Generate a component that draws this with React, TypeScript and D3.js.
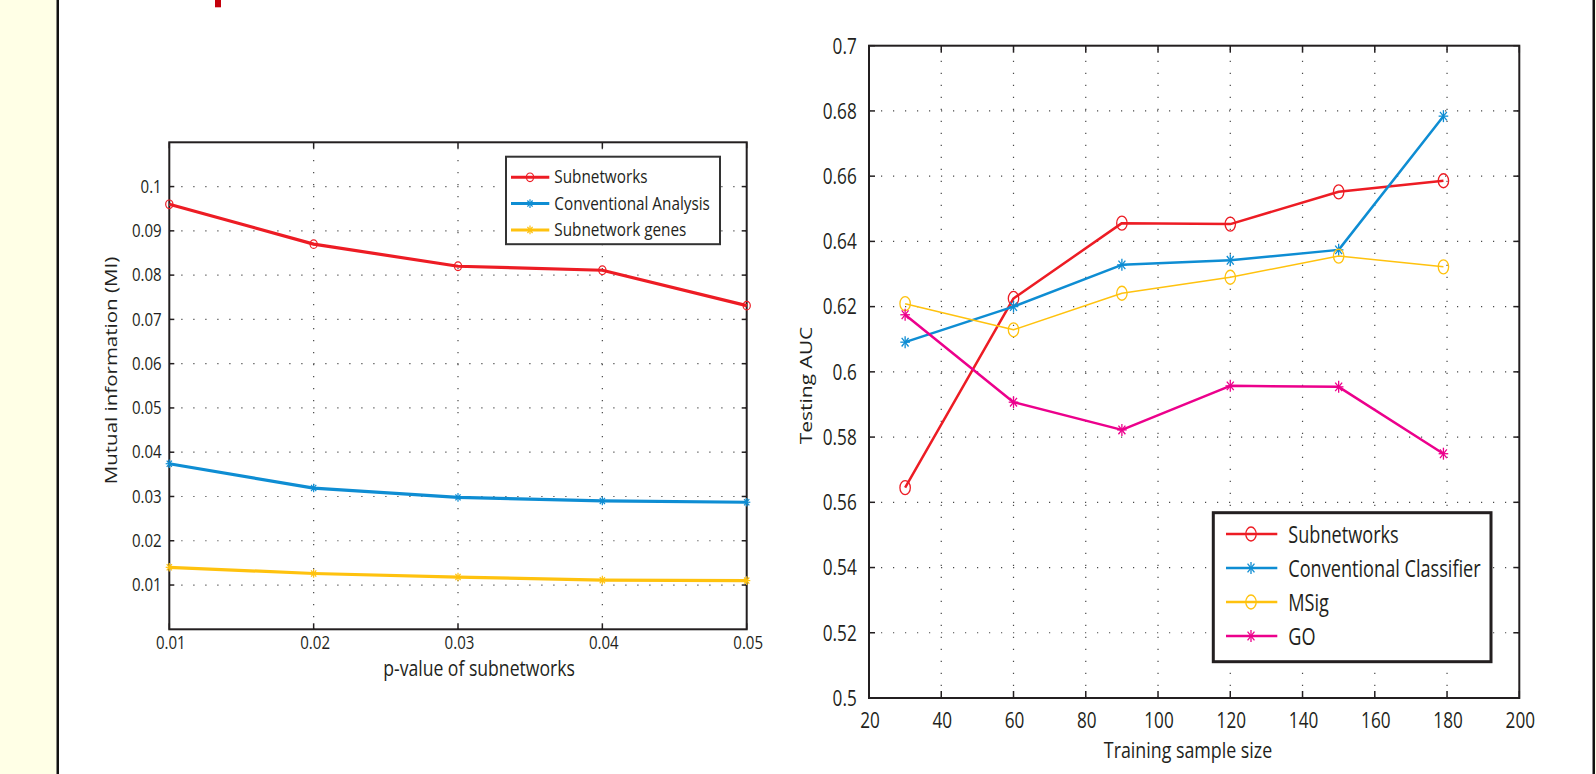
import React from "react";
import * as d3 from "d3";

// ---------- data ----------
const pValues = [0.01, 0.02, 0.03, 0.04, 0.05];
const miSubnetworks = [0.096, 0.087, 0.082, 0.0811, 0.0731];
const miConventional = [0.0374, 0.0319, 0.0298, 0.029, 0.0287];
const miGenes = [0.014, 0.0126, 0.0118, 0.0111, 0.011];
const leftYTicks = [0.01, 0.02, 0.03, 0.04, 0.05, 0.06, 0.07, 0.08, 0.09, 0.1];
const leftXTicks = [0.01, 0.02, 0.03, 0.04, 0.05];
const leftLegend = ["Subnetworks", "Conventional Analysis", "Subnetwork genes"];

const sampleSizes = [30, 60, 90, 120, 150, 179];
const aucSubnetworks = [0.5645, 0.6225, 0.6456, 0.6453, 0.6552, 0.6586];
const aucConventional = [0.6091, 0.62, 0.6328, 0.6342, 0.6374, 0.6784];
const aucMSig = [0.6209, 0.6129, 0.6241, 0.629, 0.6355, 0.6322];
const aucGO = [0.6175, 0.5907, 0.5822, 0.5957, 0.5954, 0.5749];
const rightYTicks = [0.5, 0.52, 0.54, 0.56, 0.58, 0.6, 0.62, 0.64, 0.66, 0.68, 0.7];
const rightXTicks = [20, 40, 60, 80, 100, 120, 140, 160, 180, 200];
const rightLegend = ["Subnetworks", "Conventional Classifier", "MSig", "GO"];

// ---------- style ----------
const RED = "#ED1C24";
const BLUE = "#0E8DD3";
const YELLOW = "#FFC20E";
const MAGENTA = "#EC008C";
const INK = "#231F20";
const FONT = "'Open Sans', 'Noto Sans', sans-serif";

type Marker = "circle" | "star";

function MarkerShape({ x, y, kind, color, rx, ry, sw = 1.2 }: any) {
  if (kind === "circle") {
    return <ellipse cx={x} cy={y} rx={rx} ry={ry} fill="none" stroke={color} strokeWidth={sw} />;
  }
  const dx = rx * 0.72;
  const dy = ry * 0.72;
  return (
    <g stroke={color} strokeWidth={sw} fill="none">
      <line x1={x - rx} y1={y} x2={x + rx} y2={y} />
      <line x1={x} y1={y - ry} x2={x} y2={y + ry} />
      <line x1={x - dx} y1={y - dy} x2={x + dx} y2={y + dy} />
      <line x1={x - dx} y1={y + dy} x2={x + dx} y2={y - dy} />
    </g>
  );
}

function SText({ x, y, size, sx, anchor = "start", children, fill = INK }: any) {
  return (
    <text
      transform={`translate(${x},${y}) scale(${sx},1)`}
      textAnchor={anchor}
      fontFamily={FONT}
      fontSize={size}
      fill={fill}
    >
      {children}
    </text>
  );
}

function VText({ x, y, size, sx, children }: any) {
  return (
    <text
      transform={`translate(${x},${y}) scale(${sx},1) rotate(-90)`}
      textAnchor="middle"
      fontFamily={FONT}
      fontSize={size}
      fill={INK}
    >
      {children}
    </text>
  );
}

export default function App() {
  // ---------- left chart ----------
  const lx = d3.scaleLinear().domain([0.01, 0.05]).range([169.3, 746.7]);
  const ly = d3.scaleLinear().domain([0, 0.11]).range([629.3, 142.3]);
  const [lx0, lx1] = lx.range();
  const [ly0, ly1] = ly.range();
  const lineL = (vals: number[]) =>
    d3.line<number>().x((_, i) => lx(pValues[i])).y((v) => ly(v))(vals) || "";

  const leftSeries = [
    { vals: miSubnetworks, color: RED, kind: "circle" as Marker },
    { vals: miConventional, color: BLUE, kind: "star" as Marker },
    { vals: miGenes, color: YELLOW, kind: "star" as Marker },
  ];

  // ---------- right chart ----------
  const rx = d3.scaleLinear().domain([20, 200]).range([869, 1519.3]);
  const ry = d3.scaleLinear().domain([0.5, 0.7]).range([698, 45.7]);
  const [rx0, rx1] = rx.range();
  const [ry0, ry1] = ry.range();
  const lineR = (vals: number[]) =>
    d3.line<number>().x((_, i) => rx(sampleSizes[i])).y((v) => ry(v))(vals) || "";

  const rightSeries = [
    { vals: aucSubnetworks, color: RED, kind: "circle" as Marker, w: 2.5 },
    { vals: aucConventional, color: BLUE, kind: "star" as Marker, w: 2.5 },
    { vals: aucMSig, color: YELLOW, kind: "circle" as Marker, w: 1.5 },
    { vals: aucGO, color: MAGENTA, kind: "star" as Marker, w: 2.5 },
  ];

  const gridStyle = { stroke: "#4a4a4a", strokeWidth: 1.2, strokeDasharray: "1.2 10.8" };

  return (
    <svg
      width={1596}
      height={774}
      style={{ position: "absolute", left: 0, top: 0, display: "block" }}
    >
      <rect x={0} y={0} width={1596} height={774} fill="#ffffff" />
      <rect x={0} y={0} width={56.5} height={774} fill="#FFFFE6" />
      <rect x={56.5} y={0} width={2.5} height={774} fill="#111" />
      <rect x={1592.5} y={0} width={2.5} height={774} fill="#111" />
      <rect x={1595} y={0} width={1} height={774} fill="#FFFFE6" />
      <rect x={215} y={0} width={6} height={7.3} fill="#C4000B" />

      {/* ===== Left chart ===== */}
      <g>
        {leftYTicks.map((t) => (
          <line key={"lgy" + t} x1={lx0} x2={lx1} y1={ly(t)} y2={ly(t)} {...gridStyle} />
        ))}
        {leftXTicks.slice(1, -1).map((t) => (
          <line key={"lgx" + t} x1={lx(t)} x2={lx(t)} y1={ly0} y2={ly1} {...gridStyle} />
        ))}
        {/* ticks */}
        {leftYTicks.map((t) => (
          <g key={"lty" + t} stroke={INK} strokeWidth={1.5}>
            <line x1={lx0} x2={lx0 + 5} y1={ly(t)} y2={ly(t)} />
            <line x1={lx1} x2={lx1 - 5} y1={ly(t)} y2={ly(t)} />
          </g>
        ))}
        {leftXTicks.map((t) => (
          <g key={"ltx" + t} stroke={INK} strokeWidth={1.5}>
            <line x1={lx(t)} x2={lx(t)} y1={ly0} y2={ly0 - 6} />
            <line x1={lx(t)} x2={lx(t)} y1={ly1} y2={ly1 + 6} />
          </g>
        ))}
        <rect x={lx0} y={ly1} width={lx1 - lx0} height={ly0 - ly1} fill="none" stroke={INK} strokeWidth={2} />

        {leftSeries.map((s, si) => (
          <g key={"ls" + si}>
            <path d={lineL(s.vals)} fill="none" stroke={s.color} strokeWidth={3.2} strokeLinejoin="round" />
            {s.vals.map((v, i) => (
              <MarkerShape key={i} x={lx(pValues[i])} y={ly(v)} kind={s.kind} color={s.color} rx={3.6} ry={4.3} />
            ))}
          </g>
        ))}

        {leftYTicks.map((t) => (
          <SText key={"lyl" + t} x={161.7} y={ly(t) + 6.2} size={17.5} sx={0.86} anchor="end">
            {d3.format("~g")(t)}
          </SText>
        ))}
        {leftXTicks.map((t) => (
          <SText key={"lxl" + t} x={lx(t) + 1.5} y={649.3} size={17.5} sx={0.86} anchor="middle">
            {d3.format(".2f")(t)}
          </SText>
        ))}
        <SText x={479} y={676} size={22} sx={0.8} anchor="middle">
          p-value of subnetworks
        </SText>
        <VText x={117} y={370.5} size={20.5} sx={0.78}>
          Mutual information (MI)
        </VText>

        {/* legend */}
        <rect x={506} y={156.7} width={214} height={87.5} fill="#fff" stroke="#333" strokeWidth={2} />
        {leftLegend.map((name, i) => {
          const yy = 177.3 + i * 26.3;
          const s = leftSeries[i];
          return (
            <g key={"ll" + i}>
              <line x1={511} x2={549.3} y1={yy} y2={yy} stroke={s.color} strokeWidth={3} />
              <MarkerShape x={530} y={yy} kind={s.kind} color={s.color} rx={3.6} ry={4.3} />
              <SText x={554.3} y={yy + 6} size={17.4} sx={0.88}>
                {name}
              </SText>
            </g>
          );
        })}
      </g>

      {/* ===== Right chart ===== */}
      <g>
        {rightYTicks.slice(1, -1).map((t) => (
          <line key={"rgy" + t} x1={rx0} x2={rx1} y1={ry(t)} y2={ry(t)} {...gridStyle} />
        ))}
        {rightXTicks.slice(1, -1).map((t) => (
          <line key={"rgx" + t} x1={rx(t)} x2={rx(t)} y1={ry0} y2={ry1} {...gridStyle} />
        ))}
        {rightYTicks.map((t) => (
          <g key={"rty" + t} stroke={INK} strokeWidth={1.5}>
            <line x1={rx0} x2={rx0 + 6} y1={ry(t)} y2={ry(t)} />
            <line x1={rx1} x2={rx1 - 6} y1={ry(t)} y2={ry(t)} />
          </g>
        ))}
        {rightXTicks.map((t) => (
          <g key={"rtx" + t} stroke={INK} strokeWidth={1.5}>
            <line x1={rx(t)} x2={rx(t)} y1={ry0} y2={ry0 - 7} />
            <line x1={rx(t)} x2={rx(t)} y1={ry1} y2={ry1 + 7} />
          </g>
        ))}
        <rect x={rx0} y={ry1} width={rx1 - rx0} height={ry0 - ry1} fill="none" stroke={INK} strokeWidth={2} />

        {rightSeries.map((s, si) => (
          <g key={"rs" + si}>
            <path d={lineR(s.vals)} fill="none" stroke={s.color} strokeWidth={s.w} strokeLinejoin="round" />
            {s.vals.map((v, i) => (
              <MarkerShape
                key={i}
                x={rx(sampleSizes[i])}
                y={ry(v)}
                kind={s.kind}
                color={s.color}
                rx={s.kind === "circle" ? 5.2 : 4.8}
                ry={s.kind === "circle" ? 7 : 6}
                sw={1.3}
              />
            ))}
          </g>
        ))}

        {rightYTicks.map((t) => (
          <SText key={"ryl" + t} x={856.7} y={ry(t) + 7.8} size={22} sx={0.78} anchor="end">
            {d3.format("~g")(t)}
          </SText>
        ))}
        {rightXTicks.map((t) => (
          <SText key={"rxl" + t} x={rx(t) + 1} y={728.3} size={22} sx={0.78} anchor="middle">
            {String(t)}
          </SText>
        ))}
        <SText x={1188} y={758.3} size={22} sx={0.81} anchor="middle">
          Training sample size
        </SText>
        <VText x={812} y={385.5} size={21} sx={0.78}>
          Testing AUC
        </VText>

        {/* legend */}
        <rect x={1213.3} y={512.7} width={277.7} height={149} fill="#fff" stroke={INK} strokeWidth={3} />
        {rightLegend.map((name, i) => {
          const yy = 534 + i * 34;
          const s = rightSeries[i];
          return (
            <g key={"rl" + i}>
              <line x1={1226} x2={1277.3} y1={yy} y2={yy} stroke={s.color} strokeWidth={2.5} />
              <MarkerShape
                x={1251}
                y={yy}
                kind={s.kind}
                color={s.color}
                rx={s.kind === "circle" ? 5.2 : 4.8}
                ry={s.kind === "circle" ? 7 : 6}
                sw={1.3}
              />
              <SText x={1288.3} y={yy + 8.7} size={24.5} sx={0.74}>
                {name}
              </SText>
            </g>
          );
        })}
      </g>
    </svg>
  );
}
